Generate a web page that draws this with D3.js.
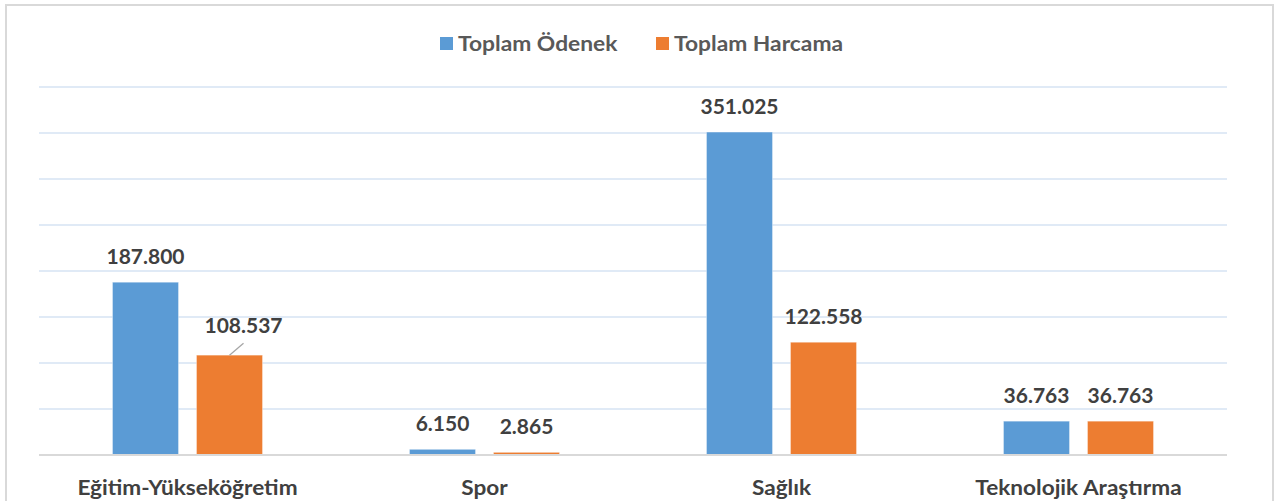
<!DOCTYPE html>
<html>
<head>
<meta charset="utf-8">
<script src="https://cdn.jsdelivr.net/npm/d3@7"></script>
<style>
html,body{margin:0;padding:0;background:#fff;}
svg{display:block;}
text{font-family:Lato,"Noto Sans",sans-serif;font-weight:bold;}
</style>
</head>
<body>
<svg id="chart" width="1279" height="501"></svg>
<script>
const categories = ["Eğitim-Yükseköğretim", "Spor", "Sağlık", "Teknolojik Araştırma"];
const seriesNames = ["Toplam Ödenek", "Toplam Harcama"];
const odenek = [187.800, 6.150, 351.025, 36.763];
const harcama = [108.537, 2.865, 122.558, 36.763];
const valueLabels = [["187.800", "6.150", "351.025", "36.763"], ["108.537", "2.865", "122.558", "36.763"]];
const yTicks = [0, 50, 100, 150, 200, 250, 300, 350, 400];
const colors = ["#5B9BD5", "#ED7D31"];

const svg = d3.select("#chart");
const W = 1279, H = 501;
const margin = {left: 39, right: 52, top: 87, bottom: 46};

function stretch(sel, f) {
  sel.each(function () {
    const w = this.getComputedTextLength();
    d3.select(this).attr("textLength", w * f).attr("lengthAdjust", "spacingAndGlyphs");
  });
}

// chart border
svg.append("rect").attr("x", 6).attr("y", 5).attr("width", 1267).attr("height", 510)
  .attr("fill", "none").attr("stroke", "#d9d9d9").attr("stroke-width", 2);

const x = d3.scaleBand().domain(categories).range([margin.left, W - margin.right]);
const y = d3.scaleLinear().domain([0, 400]).range([H - margin.bottom, margin.top]);

// gridlines
svg.append("g").selectAll("line").data(yTicks.filter(d => d > 0)).join("line")
  .attr("x1", margin.left).attr("x2", W - margin.right)
  .attr("y1", d => y(d)).attr("y2", d => y(d))
  .attr("stroke", "#d6e3f3").attr("stroke-width", 1.6);

const barW = 66, innerGap = 18;
const series = [odenek, harcama];

series.forEach((vals, si) => {
  const g = svg.append("g");
  g.selectAll("rect").data(vals).join("rect")
    .attr("x", (d, i) => x(categories[i]) + x.bandwidth() / 2 + (si === 0 ? -innerGap / 2 - barW : innerGap / 2))
    .attr("y", d => y(d))
    .attr("width", barW)
    .attr("height", d => y(0) - y(d))
    .attr("fill", colors[si])
    .attr("stroke", "#ffffff").attr("stroke-opacity", 0.35).attr("stroke-width", 1);
});

// baseline
svg.append("line").attr("x1", margin.left).attr("x2", W - margin.right)
  .attr("y1", y(0)).attr("y2", y(0)).attr("stroke", "#d9d9d9").attr("stroke-width", 2);

// value labels
series.forEach((vals, si) => {
  vals.forEach((v, i) => {
    const cx = x(categories[i]) + x.bandwidth() / 2 + (si === 0 ? -innerGap / 2 - barW / 2 : innerGap / 2 + barW / 2);
    let lx = cx, ly = y(v) - 18;
    if (si === 1 && i === 0) {
      lx = cx + 14; ly = y(v) - 22;
      svg.append("line").attr("x1", cx).attr("y1", y(v)).attr("x2", cx + 14).attr("y2", y(v) - 12)
        .attr("stroke", "#a6a6a6").attr("stroke-width", 1.3);
    }
    const t = svg.append("text").attr("x", lx).attr("y", ly).attr("text-anchor", "middle")
      .attr("font-size", 20).attr("fill", "#404040").text(valueLabels[si][i]);
    stretch(t, 1.05);
  });
});

// category labels
const cl = svg.append("g").selectAll("text").data(categories).join("text")
  .attr("x", d => x(d) + x.bandwidth() / 2).attr("y", 495)
  .attr("text-anchor", "middle").attr("font-size", 20).attr("fill", "#404040")
  .text(d => d);
stretch(cl, 1.13);

// legend
const legend = svg.append("g");
const legX = [440, 656];
seriesNames.forEach((n, i) => {
  legend.append("rect").attr("x", legX[i]).attr("y", 37).attr("width", 13).attr("height", 13).attr("fill", colors[i]);
  const t = legend.append("text").attr("x", legX[i] + 18).attr("y", 51).attr("font-size", 20)
    .attr("fill", "#595959").text(n);
  stretch(t, 1.14);
});
</script>
</body>
</html>
